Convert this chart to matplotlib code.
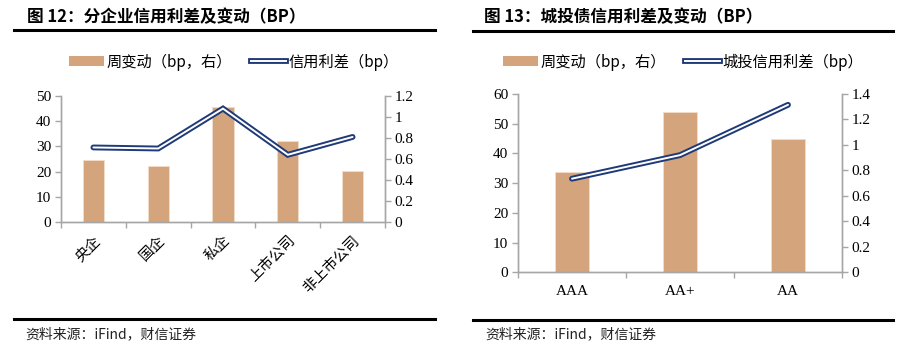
import matplotlib
matplotlib.use("Agg")
import matplotlib.pyplot as plt
from matplotlib.lines import Line2D
from matplotlib.patches import Patch
from matplotlib.legend_handler import HandlerTuple

plt.rcParams['font.family'] = ['Liberation Serif', 'Noto Sans CJK SC', 'DejaVu Sans']

# ---- data ----
left_title = "图 12：分企业信用利差及变动（BP）"
left_categories = ["央企", "国企", "私企", "上市公司", "非上市公司"]
left_bar_values = [24.5, 22.4, 45.8, 32.3, 20.4]
left_line_values = [0.71, 0.70, 1.08, 0.64, 0.81]
left_bar_label = "周变动（bp，右）"
left_line_label = "信用利差（bp）"
left_yticks = [0, 10, 20, 30, 40, 50]
left_y2ticks = [0, 0.2, 0.4, 0.6, 0.8, 1.0, 1.2]
left_y2ticklabels = ["0", "0.2", "0.4", "0.6", "0.8", "1", "1.2"]

right_title = "图 13：城投债信用利差及变动（BP）"
right_categories = ["AAA", "AA+", "AA"]
right_bar_values = [33.9, 54.0, 44.8]
right_line_values = [0.735, 0.92, 1.315]
right_bar_label = "周变动（bp，右）"
right_line_label = "城投信用利差（bp）"
right_yticks = [0, 10, 20, 30, 40, 50, 60]
right_y2ticks = [0, 0.2, 0.4, 0.6, 0.8, 1.0, 1.2, 1.4]
right_y2ticklabels = ["0", "0.2", "0.4", "0.6", "0.8", "1", "1.2", "1.4"]

source_text = "资料来源：iFind，财信证券"

BAR_COLOR = "#D4A47C"
LINE_COLOR = "#1F3A78"
SPINE_COLOR = "#A6A6A6"
CJK = ['Noto Sans CJK SC', 'DejaVu Sans']
SERIF = ['Liberation Serif', 'Noto Sans CJK SC']

W, H = 904, 351
fig = plt.figure(figsize=(W / 100, H / 100), dpi=100)


def px_axes(x0, y0, x1, y1):
    return fig.add_axes([x0 / W, 1 - y1 / H, (x1 - x0) / W, (y1 - y0) / H])


def hline(x0, x1, y, lw=2.2):
    fig.add_artist(Line2D([x0 / W, x1 / W], [1 - y / H, 1 - y / H],
                          transform=fig.transFigure, color="black", lw=lw))


def panel(box, cats, bars, line, ylim, yticks, y2lim, y2ticks, y2labels,
          bar_w, rotate, legend_x, bar_label, line_label):
    ax = px_axes(*box)
    xs = list(range(len(cats)))
    ax.bar(xs, bars, width=bar_w, color=BAR_COLOR, edgecolor="#F3DCC8",
           linewidth=0.6, zorder=2)
    ax.set_xlim(-0.5, len(cats) - 0.5)
    ax.set_ylim(*ylim)
    ax.set_yticks(yticks)
    ax.set_yticklabels([str(t) for t in yticks], fontsize=11, family=SERIF)
    ax2 = ax.twinx()
    ax2.plot(xs, line, color=LINE_COLOR, lw=4.2, solid_capstyle='round',
             solid_joinstyle='miter', zorder=3)
    ax2.plot(xs, line, color="white", lw=1.4, solid_capstyle='round',
             solid_joinstyle='miter', zorder=4)
    ax2.set_ylim(*y2lim)
    ax2.set_yticks(y2ticks)
    ax2.set_yticklabels(y2labels, fontsize=11, family=SERIF)

    for a in (ax, ax2):
        a.spines['top'].set_visible(False)
        for s in ('left', 'right', 'bottom'):
            a.spines[s].set_color(SPINE_COLOR)
            a.spines[s].set_linewidth(1.0)
        a.tick_params(axis='y', colors=SPINE_COLOR, labelcolor='black',
                      length=4, width=1.0, pad=3)
    ax.set_xticks([i - 0.5 for i in range(len(cats) + 1)], minor=False)
    ax.set_xticklabels([""] * (len(cats) + 1))
    ax.tick_params(axis='x', colors=SPINE_COLOR, length=4, width=1.0)
    for i, c in enumerate(cats):
        if rotate:
            ax.annotate(c, xy=(i, 0), xycoords=('data', 'axes fraction'),
                        xytext=(0, -8), textcoords='offset points',
                        rotation=45, ha='right', va='top',
                        rotation_mode='anchor', fontsize=10.5, family=CJK)
        else:
            ax.annotate(c, xy=(i, 0), xycoords=('data', 'axes fraction'),
                        xytext=(0, -9), textcoords='offset points',
                        ha='center', va='top', fontsize=11, family=SERIF)

    h_bar = Patch(facecolor=BAR_COLOR, edgecolor='none')
    h_line = (Line2D([], [], color=LINE_COLOR, lw=4.2),
              Line2D([], [], color='white', lw=1.4))
    ax.legend([h_bar, h_line], [bar_label, line_label], ncol=2,
              loc='center', bbox_to_anchor=(legend_x / W, 1 - 62 / H),
              bbox_transform=fig.transFigure, frameon=False,
              prop={'family': CJK, 'size': 11}, handlelength=2.3,
              handleheight=0.6, handletextpad=0.2, columnspacing=1.2,
              handler_map={tuple: HandlerTuple(ndivide=1)})
    return ax


panel((61, 96, 385, 222), left_categories, left_bar_values, left_line_values,
      (0, 50), left_yticks, (0, 1.2), left_y2ticks, left_y2ticklabels,
      0.33, True, 234, left_bar_label, left_line_label)
panel((518, 94, 842, 272.3), right_categories, right_bar_values,
      right_line_values, (0, 60), right_yticks, (0, 1.4), right_y2ticks,
      right_y2ticklabels, 0.31, False, 683, right_bar_label, right_line_label)

fig.text(27 / W, 1 - 17 / H, left_title, fontsize=12, fontweight='bold',
         family=CJK, va='center', ha='left')
fig.text(484 / W, 1 - 17 / H, right_title, fontsize=12, fontweight='bold',
         family=CJK, va='center', ha='left')
hline(14, 435, 29.5)
hline(473, 893, 30.5)
hline(14, 435, 319)
hline(473, 893, 320)
fig.text(25 / W, 1 - 334 / H, source_text, fontsize=10, style='italic',
         family=CJK, va='center', ha='left', color='#222222')
fig.text(485 / W, 1 - 334 / H, source_text, fontsize=10, style='italic',
         family=CJK, va='center', ha='left', color='#222222')

fig.savefig("out.png", dpi=100)
